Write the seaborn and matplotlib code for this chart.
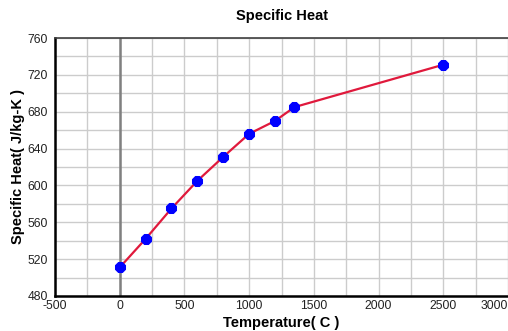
import matplotlib
matplotlib.use("Agg")
import matplotlib.pyplot as plt
import seaborn as sns
import pandas as pd
from matplotlib.ticker import MultipleLocator

temperature = [0, 200, 400, 600, 800, 1000, 1200, 1350, 2500]
specific_heat = [511, 542, 575, 605, 631, 656, 670, 685, 731]
x_ticks = [-500, 0, 500, 1000, 1500, 2000, 2500, 3000]
y_ticks = [480, 520, 560, 600, 640, 680, 720, 760]

sns.set_style("white")
plt.rcParams['font.family'] = ['Liberation Sans', 'DejaVu Sans']

df = pd.DataFrame({"Temperature": temperature, "SpecificHeat": specific_heat})

fig = plt.figure(figsize=(5.08, 3.31), dpi=100)
ax = fig.add_axes([55/508, 35/331, 453/508, 258/331])

ax.xaxis.set_minor_locator(MultipleLocator(250))
ax.yaxis.set_minor_locator(MultipleLocator(20))
ax.grid(True, which='both', color='#cccccc', linewidth=1.0)
ax.set_axisbelow(True)
ax.axvline(0, color='#808080', linewidth=1.8, zorder=1)

sns.lineplot(data=df, x="Temperature", y="SpecificHeat", ax=ax, color='#e0193c',
             linewidth=1.6, marker='8', markersize=7.5, markerfacecolor='#0000ff',
             markeredgecolor='#0000ff', zorder=3)

ax.set_xlim(-500, 2990)
ax.set_ylim(480, 760)
ax.set_xticks(x_ticks)
ax.set_yticks(y_ticks)
ax.set_xticklabels([str(t) for t in x_ticks])
ax.set_yticklabels([str(t) for t in y_ticks])
for lbl in ax.get_xticklabels():
    if lbl.get_text() == '3000':
        lbl.set_horizontalalignment('right')

ax.tick_params(axis='both', which='major', labelsize=8.7, colors='black',
               labelcolor='#222222', length=3, width=1)
ax.tick_params(axis='x', direction='in', pad=3)
ax.tick_params(axis='y', direction='out', pad=2)
ax.tick_params(which='minor', length=0)

for s in ['left', 'bottom']:
    ax.spines[s].set_color('black')
    ax.spines[s].set_linewidth(1.8)
ax.spines['top'].set_color('#404040')
ax.spines['top'].set_linewidth(1.2)
ax.spines['right'].set_visible(False)

ax.set_title("Specific Heat", fontsize=10.5, fontweight='bold', pad=13, color='black')
ax.set_xlabel("Temperature( C )", fontsize=10.5, fontweight='bold', labelpad=3, color='black')
ax.set_ylabel("Specific Heat( J/kg-K )", fontsize=10.5, fontweight='bold', labelpad=2, color='black')

fig.savefig("out.png", dpi=100)
